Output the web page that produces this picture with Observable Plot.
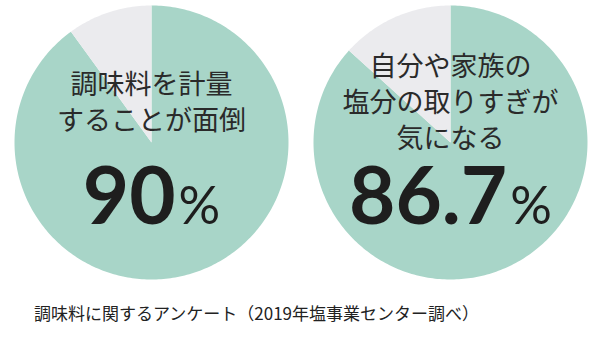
<!DOCTYPE html>
<html>
<head>
<meta charset="utf-8">
<script src="https://cdn.jsdelivr.net/npm/d3@7"></script>
<script src="https://cdn.jsdelivr.net/npm/@observablehq/plot@0.6"></script>
<style>
  html, body { margin: 0; padding: 0; background: #fff; }
  #chart svg { display: block; }
  .caption { font-family: "Noto Sans CJK JP", sans-serif; font-size: 17px; line-height: 20px; color: #222; padding: 7px 0 0 34px; }
</style>
</head>
<body>
<div id="chart"></div>
<script>
// ---- data ----
const questions = ["調味料を計量\nすることが面倒", "自分や家族の\n塩分の取りすぎが\n気になる"];
const percents = [90, 86.7];
const percentLabels = ["90", "86.7"];
const percentSign = "%";
const captionText = "調味料に関するアンケート（2019年塩事業センター調べ）";

// ---- styling constants ----
const teal = "#a8d5c8";
const grey = "#ebebee";
const radiusPx = 137;
const numFont = "bold 80px Lato";
const pctFont = "52px Lato";

// build slice polygons from the percentages (angle measured clockwise from 12 o'clock)
const slices = [];
percents.forEach((p, i) => {
  const cut = p / 100 * 2 * Math.PI;
  const parts = [["yes", 0, cut], ["no", cut, 2 * Math.PI]];
  parts.forEach(([part, a0, a1]) => {
    const key = i + "-" + part;
    slices.push({q: i, part, key, x: 0, y: 0});
    const n = Math.max(2, Math.ceil((a1 - a0) / (Math.PI / 180)));
    for (let k = 0; k <= n; k++) {
      const a = a0 + (a1 - a0) * k / n;
      slices.push({q: i, part, key, x: Math.sin(a), y: Math.cos(a)});
    }
  });
});

// measure the number + % group so it is centred on the pie
const ctx = document.createElement("canvas").getContext("2d");
function w(txt, font) { ctx.font = font; return ctx.measureText(txt).width; }
const nums = percentLabels.map((t, i) => {
  const wn = w(t, numFont), wp = w(percentSign, pctFont);
  const gap = 3;
  const start = -(wn + gap + wp) / 2;
  return {q: i, num: t, pct: percentSign, xNum: start / radiusPx, xPct: (start + wn + gap) / radiusPx};
});
const labels = questions.map((t, i) => ({q: i, text: t}));

const plot = Plot.plot({
  width: 600,
  height: 296,
  marginLeft: 14,
  marginRight: 13,
  marginTop: 5,
  marginBottom: 17,
  fx: {domain: [0, 1], axis: null, paddingInner: 25 / 299, paddingOuter: 0},
  x: {domain: [-1, 1], axis: null},
  y: {domain: [-1, 1], axis: null},
  color: {domain: ["yes", "no"], range: [teal, grey]},
  marks: [
    Plot.line(slices, {fx: "q", x: "x", y: "y", z: "key", fill: "part", stroke: "none", curve: "linear"}),
    Plot.text(labels, {fx: "q", text: "text", frameAnchor: "middle", dy: -42, lineAnchor: "middle", lineHeight: 1.33,
      fontSize: 27, fontFamily: "Noto Sans CJK JP", fill: "#2a2a2a", textAnchor: "middle"}),
    Plot.text(nums, {fx: "q", x: "xNum", y: () => 0, text: "num", textAnchor: "start", lineAnchor: "bottom", dy: 81,
      fontSize: 80, fontWeight: "bold", fontFamily: "Lato", fill: "#1e1e1e"}),
    Plot.text(nums, {fx: "q", x: "xPct", y: () => 0, text: "pct", textAnchor: "start", lineAnchor: "bottom", dy: 81,
      fontSize: 52, fontFamily: "Lato", fill: "#1e1e1e"})
  ]
});
document.getElementById("chart").appendChild(plot);
const cap = document.createElement("div");
cap.className = "caption";
cap.textContent = captionText;
document.body.appendChild(cap);
</script>
</body>
</html>
